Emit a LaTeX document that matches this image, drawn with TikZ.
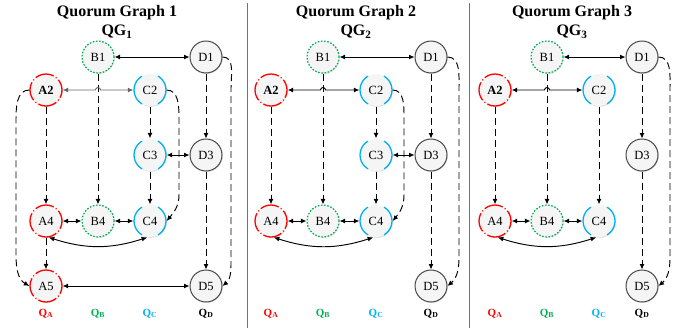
\documentclass[tikz,border=0pt]{standalone}
\usepackage{fontspec}
\setmainfont{Liberation Serif}
\usetikzlibrary{arrows.meta,shadows}
\definecolor{qred}{HTML}{FF0000}
\definecolor{qgreen}{HTML}{00B050}
\definecolor{qblue}{HTML}{00B0F0}
\tikzset{
  nd/.style={circle, minimum size=32pt, inner sep=0pt, fill=gray!8,
    font=\fontsize{12.5}{14}\selectfont,
    drop shadow={shadow xshift=0.8pt, shadow yshift=-0.8pt, opacity=0.25}},
  na/.style={nd, draw=qred, line width=1.3pt, dash pattern=on 19pt off 2.6pt on 1pt off 2.53pt, dash phase=8pt},
  nb/.style={nd, draw=qgreen, line width=1.2pt, dash pattern=on 1.6pt off 1.6pt},
  nc/.style={nd, draw=qblue, line width=1.3pt, dash pattern=on 33.51pt off 16.755pt, dash phase=16.755pt},
  ndd/.style={nd, draw=black!72, line width=1pt},
  tip/.tip={Latex[length=5.5pt,width=5pt]},
  dsh/.style={-tip, line width=0.95pt, dash pattern=on 7pt off 4pt},
  bi/.style={tip-tip, line width=0.95pt},
  ttl/.style={font=\fontsize{16}{18}\selectfont\bfseries, anchor=base, inner sep=0pt},
  qlab/.style={font=\fontsize{11}{13}\selectfont\bfseries, anchor=base, inner sep=0pt},
  divider/.style={draw=black!55, line width=1pt}
}
\begin{document}
\begin{tikzpicture}[x=1pt,y=1pt]
\useasboundingbox (0,0) rectangle (687,-330);
% dividers
\draw[divider] (247,-3) -- (247,-328);
\draw[divider] (469,-3) -- (469,-328);

% ================= Panel 1 =================
\node[ttl] (p1t) at (117,-16) {Quorum Graph 1};
\node[ttl] (p1q) at (117,-35.5) {QG\textsubscript{1}};
\node[nb] (p1B1) at (98,-57) {B1};
\node[ndd] (p1D1) at (206,-57) {D1};
\node[na] (p1A2) at (46,-90) {\textbf{A2}};
\node[nc] (p1C2) at (150,-90) {C2};
\node[nc] (p1C3) at (150,-155) {C3};
\node[ndd] (p1D3) at (206,-155) {D3};
\node[na] (p1A4) at (46,-221) {A4};
\node[nb] (p1B4) at (98,-221) {B4};
\node[nc] (p1C4) at (150,-221) {C4};
\node[na] (p1A5) at (46,-286) {A5};
\node[ndd] (p1D5) at (206,-286) {D5};
\coordinate (p1h) at (95.5,-90);
\coordinate (p1c1) at (179,-118);
\coordinate (p1c2) at (179,-195);
\coordinate (p1a1) at (16,-120);
\coordinate (p1a2) at (16,-255);
\coordinate (p1d1) at (231,-88);
\coordinate (p1d2) at (231,-258);
\draw[bi] (p1B1) -- (p1D1);
\draw[dsh] (p1B1) -- (p1B4);
\draw[bi, black!60] (p1A2) -- (p1h) arc[start angle=180,end angle=0,radius=2.5pt] -- (p1C2);
\draw[dsh] (p1A2) -- (p1A4);
\draw[dsh] (p1C2) -- (p1C3);
\draw[dsh] (p1C3) -- (p1C4);
\draw[bi] (p1C3) -- (p1D3);
\draw[dsh] (p1D1) -- (p1D3);
\draw[dsh] (p1D3) -- (p1D5);
\draw[bi] (p1A4) -- (p1B4);
\draw[bi] (p1B4) -- (p1C4);
\draw[bi] (p1A4.-80) to[bend right=18] (p1C4.-100);
\draw[dsh] (p1A4) -- (p1A5);
\draw[bi] (p1A5) -- (p1D5);
\draw[dsh] (p1C2.east) to[out=0,in=90] (p1c1) -- (p1c2) to[out=-90,in=50] (p1C4.east);
\draw[dsh] (p1A2.west) to[out=180,in=90] (p1a1) -- (p1a2) to[out=-90,in=150] (p1A5.west);
\draw[dsh] (p1D1.east) to[out=0,in=90] (p1d1) -- (p1d2) to[out=-90,in=40] (p1D5.east);
\node[qlab, text=qred] (p1QA) at (46,-316) {Q\textsubscript{A}};
\node[qlab, text=qgreen] (p1QB) at (98,-316) {Q\textsubscript{B}};
\node[qlab, text=qblue] (p1QC) at (150,-316) {Q\textsubscript{C}};
\node[qlab, text=black] (p1QD) at (206,-316) {Q\textsubscript{D}};

% ================= Panel 2 =================
\node[ttl] (p2t) at (356,-16) {Quorum Graph 2};
\node[ttl] (p2q) at (356,-35.5) {QG\textsubscript{2}};
\node[nb] (p2B1) at (323,-57) {B1};
\node[ndd] (p2D1) at (431,-57) {D1};
\node[na] (p2A2) at (271,-90) {\textbf{A2}};
\node[nc] (p2C2) at (376,-90) {C2};
\node[nc] (p2C3) at (376,-155) {C3};
\node[ndd] (p2D3) at (431,-155) {D3};
\node[na] (p2A4) at (271,-221) {A4};
\node[nb] (p2B4) at (323,-221) {B4};
\node[nc] (p2C4) at (376,-221) {C4};
\node[ndd] (p2D5) at (431,-286) {D5};
\coordinate (p2h) at (320.5,-90);
\coordinate (p2c1) at (404,-118);
\coordinate (p2c2) at (404,-195);
\coordinate (p2d1) at (459,-88);
\coordinate (p2d2) at (459,-258);
\draw[bi] (p2B1) -- (p2D1);
\draw[dsh] (p2B1) -- (p2B4);
\draw[bi] (p2A2) -- (p2h) arc[start angle=180,end angle=0,radius=2.5pt] -- (p2C2);
\draw[dsh] (p2A2) -- (p2A4);
\draw[dsh] (p2C2) -- (p2C3);
\draw[dsh] (p2C3) -- (p2C4);
\draw[bi] (p2C3) -- (p2D3);
\draw[dsh] (p2D1) -- (p2D3);
\draw[dsh] (p2D3) -- (p2D5);
\draw[bi] (p2A4) -- (p2B4);
\draw[bi] (p2B4) -- (p2C4);
\draw[bi] (p2A4.-80) to[bend right=18] (p2C4.-100);
\draw[dsh] (p2C2.east) to[out=0,in=90] (p2c1) -- (p2c2) to[out=-90,in=50] (p2C4.east);
\draw[dsh] (p2D1.east) to[out=0,in=90] (p2d1) -- (p2d2) to[out=-90,in=40] (p2D5.east);
\node[qlab, text=qred] (p2QA) at (271,-316) {Q\textsubscript{A}};
\node[qlab, text=qgreen] (p2QB) at (323,-316) {Q\textsubscript{B}};
\node[qlab, text=qblue] (p2QC) at (376,-316) {Q\textsubscript{C}};
\node[qlab, text=black] (p2QD) at (431,-316) {Q\textsubscript{D}};

% ================= Panel 3 =================
\node[ttl] (p3t) at (572,-16) {Quorum Graph 3};
\node[ttl] (p3q) at (572,-35.5) {QG\textsubscript{3}};
\node[nb] (p3B1) at (547,-57) {B1};
\node[ndd] (p3D1) at (642,-57) {D1};
\node[na] (p3A2) at (495,-90) {\textbf{A2}};
\node[nc] (p3C2) at (599,-90) {C2};
\node[ndd] (p3D3) at (642,-155) {D3};
\node[na] (p3A4) at (495,-221) {A4};
\node[nb] (p3B4) at (547,-221) {B4};
\node[nc] (p3C4) at (599,-221) {C4};
\node[ndd] (p3D5) at (642,-286) {D5};
\coordinate (p3h) at (544.5,-90);
\coordinate (p3d1) at (670,-88);
\coordinate (p3d2) at (670,-258);
\draw[bi] (p3B1) -- (p3D1);
\draw[dsh] (p3B1) -- (p3B4);
\draw[bi] (p3A2) -- (p3h) arc[start angle=180,end angle=0,radius=2.5pt] -- (p3C2);
\draw[dsh] (p3A2) -- (p3A4);
\draw[dsh] (p3C2) -- (p3C4);
\draw[dsh] (p3D1) -- (p3D3);
\draw[dsh] (p3D3) -- (p3D5);
\draw[bi] (p3A4) -- (p3B4);
\draw[bi] (p3B4) -- (p3C4);
\draw[bi] (p3A4.-80) to[bend right=18] (p3C4.-100);
\draw[dsh] (p3D1.east) to[out=0,in=90] (p3d1) -- (p3d2) to[out=-90,in=40] (p3D5.east);
\node[qlab, text=qred] (p3QA) at (495,-316) {Q\textsubscript{A}};
\node[qlab, text=qgreen] (p3QB) at (547,-316) {Q\textsubscript{B}};
\node[qlab, text=qblue] (p3QC) at (599,-316) {Q\textsubscript{C}};
\node[qlab, text=black] (p3QD) at (642,-316) {Q\textsubscript{D}};
\end{tikzpicture}
\end{document}
